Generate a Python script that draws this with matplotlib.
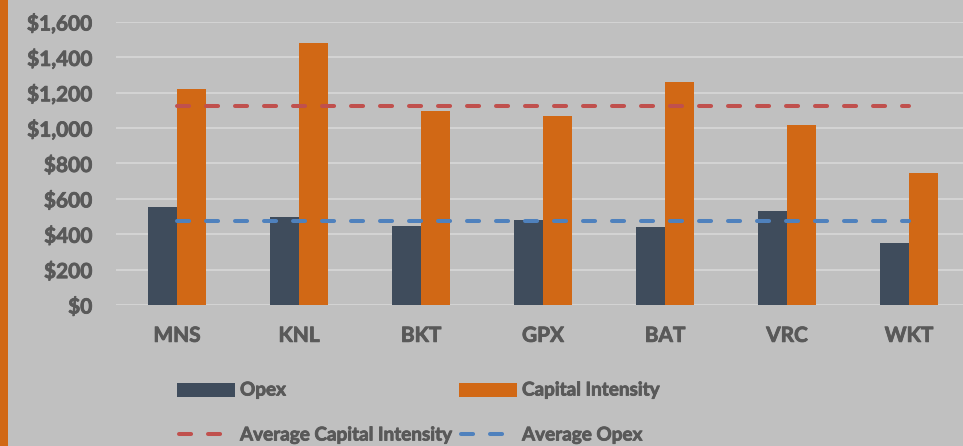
import matplotlib
matplotlib.use("Agg")
import matplotlib.pyplot as plt
import matplotlib.patheffects as pe
from matplotlib.patches import Rectangle
from matplotlib.lines import Line2D
import numpy as np

categories = ["MNS", "KNL", "BKT", "GPX", "BAT", "VRC", "WKT"]
opex = [556, 497, 447, 478, 441, 533, 349]
capital_intensity = [1221, 1481, 1097, 1068, 1260, 1016, 748]
avg_capital_intensity = 1127
avg_opex = 475
y_ticks = [0, 200, 400, 600, 800, 1000, 1200, 1400, 1600]
y_tick_labels = ["$0", "$200", "$400", "$600", "$800", "$1,000", "$1,200", "$1,400", "$1,600"]

plt.rcParams["font.family"] = ["Lato", "DejaVu Sans"]

BG = "#c0c0c0"
TXT = "#595959"
C_OPEX = "#3f4c5c"
C_CAP = "#d16815"
C_RED = "#c0504d"
C_BLUE = "#4f81bd"
FS_TICK = 15
FS_LEG = 13.6
stroke = [pe.withStroke(linewidth=0.6, foreground=TXT)]

W, H = 963, 446
fig = plt.figure(figsize=(W / 100, H / 100), dpi=100, facecolor=BG)
ax = fig.add_axes([116 / W, 141 / H, 854 / W, 283 / H], facecolor=BG)

x = np.arange(len(categories))
bw = 0.238
ax.bar(x - bw / 2, opex, width=bw, color=C_OPEX, zorder=2)
ax.bar(x + bw / 2, capital_intensity, width=bw, color=C_CAP, zorder=2)

dash_kw = dict(linewidth=2.9, dashes=(3, 4.2), dash_capstyle="round", zorder=3)
ax.plot(x, [avg_capital_intensity] * len(x), color=C_RED, **dash_kw)
ax.plot(x, [avg_opex] * len(x), color=C_BLUE, **dash_kw)

ax.set_xlim(-0.5, len(categories) - 0.5)
ax.set_ylim(0, 1600)
ax.set_yticks(y_ticks)
ax.set_yticklabels(y_tick_labels)
ax.set_xticks(x)
ax.set_xticklabels(categories)
ax.grid(axis="y", color="#d9d9d9", linewidth=1.1, zorder=0)
ax.set_axisbelow(True)
for s in ax.spines.values():
    s.set_visible(False)
ax.tick_params(axis="both", length=0, colors=TXT, labelsize=FS_TICK)
ax.tick_params(axis="y", pad=17)
ax.tick_params(axis="x", pad=15)
for lab in ax.get_xticklabels() + ax.get_yticklabels():
    lab.set_fontweight("bold")
    lab.set_color(TXT)
    lab.set_path_effects(stroke)

# left orange strip
fig.patches.append(Rectangle((0, 0), 7.5 / W, 1, transform=fig.transFigure,
                             facecolor=C_CAP, edgecolor="none", zorder=5))

# legend
def fx(px):
    return px / W

def fy(py):
    return 1 - py / H

fig.patches.append(Rectangle((fx(177), fy(397)), 58 / W, 14 / H, transform=fig.transFigure,
                             facecolor=C_OPEX, edgecolor="none"))
fig.patches.append(Rectangle((fx(459), fy(397)), 58 / W, 14 / H, transform=fig.transFigure,
                             facecolor=C_CAP, edgecolor="none"))
txt_kw = dict(color=TXT, fontsize=FS_LEG, fontweight="bold", va="center", ha="left",
              path_effects=stroke)
fig.text(fx(240), fy(390), "Opex", **txt_kw)
fig.text(fx(522), fy(390), "Capital Intensity", **txt_kw)

for x0, col in [(179, C_RED), (461, C_BLUE)]:
    fig.add_artist(Line2D([fx(x0), fx(x0 + 55)], [fy(434), fy(434)], transform=fig.transFigure,
                          color=col, linewidth=2.9, dashes=(3, 4.2), dash_capstyle="round"))
fig.text(fx(240), fy(435), "Average Capital Intensity", **txt_kw)
fig.text(fx(522), fy(435), "Average Opex", **txt_kw)

fig.savefig("out.png", dpi=100, facecolor=BG)
